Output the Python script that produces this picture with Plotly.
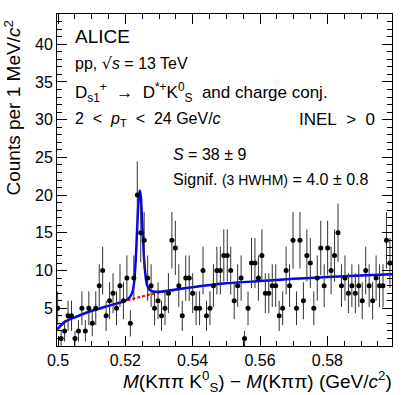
import numpy as np
import plotly.graph_objects as go

# Histogram: counts per bin (D*+K0S invariant-mass difference)
counts = [5, 1, 2, 4, 4, 1, 2, 5, 2, 5, 3, 5, 8, 10, 4, 6, 7, 5, 8, 6,
          9, 3, 9, 20, 15, 14, 9, 8, 5, 6, 4, 5, 7, 14, 13, 8, 4, 9, 9, 7,
          5, 5, 10, 4, 5, 8, 10, 10, 12, 12, 10, 6, 8, 9, 1, 5, 11, 11, 9, 12,
          7, 7, 8, 8, 4, 5, 10, 8, 14, 5, 14, 6, 12, 11, 5, 9, 13, 8, 13, 10,
          12, 15, 8, 9, 7, 8, 7, 8, 6, 10, 8, 6, 9, 8, 8, 14, 11]
first_center = 0.4999
bin_step = 0.001028
mass = first_center + bin_step * np.arange(len(counts))
errors = np.sqrt(counts)

# Total fit (signal + background)
fit_x = [0.4997, 0.5020, 0.5050, 0.5090, 0.5140, 0.5180, 0.5200, 0.5212, 0.5220,
         0.5226, 0.5231, 0.5236, 0.5240, 0.5243, 0.5246, 0.5250, 0.5255, 0.5260,
         0.5265, 0.5272, 0.5285, 0.5305, 0.5350, 0.5400, 0.5500, 0.5600, 0.5700,
         0.5800, 0.5900, 0.5992]
fit_y = [2.2, 3.2, 3.8, 4.5, 5.2, 5.7, 6.0, 6.4, 7.0,
         8.4, 11.5, 16.5, 19.8, 20.6, 19.8, 16.5, 12.0, 9.3,
         8.0, 7.45, 7.2, 7.2, 7.5, 7.8, 8.3, 8.6, 8.9,
         9.15, 9.35, 9.5]

# Background only, under the peak
bkg_x = [0.5192, 0.5220, 0.5250, 0.5280, 0.5310, 0.5355]
bkg_y = [5.9, 6.25, 6.6, 6.9, 7.15, 7.45]

x_ticks = [0.5, 0.52, 0.54, 0.56, 0.58]
x_ticktext = ["0.5", "0.52", "0.54", "0.56", "0.58"]
y_ticks = [5, 10, 15, 20, 25, 30, 35, 40]

W, H = 407, 395
L, R, T, B = 57, 15, 14, 49
FONT = "Liberation Sans, Arial, sans-serif"
SP = "&nbsp;"


def px(x):
    return (x - L) / (W - L - R)


def py(y):
    return (H - B - y) / (H - T - B)


fig = go.Figure()

fig.add_trace(go.Scatter(
    x=bkg_x, y=bkg_y, mode="lines",
    line=dict(color="#ff0000", width=2, dash="3px,2px"),
    hoverinfo="skip",
))

fig.add_trace(go.Scatter(
    x=fit_x, y=fit_y, mode="lines",
    line=dict(color="#0000ff", width=2.5, shape="spline", smoothing=0.6),
    hoverinfo="skip",
))

fig.add_trace(go.Scatter(
    x=mass, y=counts, mode="markers",
    marker=dict(color="black", size=5),
    error_y=dict(type="data", array=errors, color="#333333", thickness=1, width=0),
    hoverinfo="skip",
))

axis_common = dict(
    showline=True, linecolor="black", linewidth=1, mirror="allticks",
    ticks="inside", ticklen=10, tickcolor="black", tickwidth=1,
    showgrid=False, zeroline=False,
    tickfont=dict(family=FONT, size=16, color="black"),
)

fig.update_xaxes(
    range=[0.4997, 0.5992],
    tickvals=x_ticks, ticktext=x_ticktext,
    minor=dict(ticks="inside", dtick=0.005, ticklen=5, tickcolor="black", showgrid=False),
    **axis_common,
)
fig.update_yaxes(
    range=[0, 44],
    tickvals=y_ticks,
    minor=dict(ticks="inside", dtick=1, ticklen=5, tickcolor="black", showgrid=False),
    **axis_common,
)

notes = [
    (73, 36, "ALICE", 19, "left"),
    (73, 64, "pp, <span style='font-family:DejaVu Sans'>√</span><i>s</i> = 13 TeV", 16, "left"),
    (73, 92, "D<sub>s1</sub><sup>+</sup>" + SP * 2 + "→" + SP * 2 + "D<sup>*+</sup>"
     + "K<sup>0</sup><sub>S</sub>" + SP * 2 + "and charge conj.", 17, "left"),
    (73, 120, "2 " + SP + "&lt;" + SP * 2 + "<i>p</i><sub>T</sub> " + SP + "&lt;"
     + SP * 2 + "24 GeV/<i>c</i>", 16, "left"),
    (377, 120, "INEL" + SP + " &gt;" + SP * 2 + "0", 17, "right"),
    (171, 155, "<i>S</i> = 38 ± 9", 16, "left"),
    (171, 179, "Signif. <span style='font-size:14px'>(3 HWHM)</span> = 4.0 ± 0.8", 16, "left"),
]
for x, y, text, size, anchor in notes:
    fig.add_annotation(
        x=px(x), y=py(y), xref="paper", yref="paper",
        text=text, showarrow=False, xanchor=anchor, yanchor="middle",
        font=dict(family=FONT, size=size, color="black"),
    )

# axis titles (ROOT style: right/top aligned)
fig.add_annotation(
    x=px(394), y=py(381), xref="paper", yref="paper",
    text="<i>M</i>(Kππ K<sup>0</sup><sub>S</sub>) − <i>M</i>(Kππ) (GeV/<i>c</i><sup>2</sup>)",
    showarrow=False, xanchor="right", yanchor="middle",
    font=dict(family=FONT, size=19, color="black"),
)
fig.add_annotation(
    x=px(13), y=py(19), xref="paper", yref="paper",
    text="Counts per 1 MeV/<i>c</i><sup>2</sup>",
    textangle=-90, showarrow=False, xanchor="center", yanchor="top",
    font=dict(family=FONT, size=19, color="black"),
)

fig.update_layout(
    width=W, height=H,
    margin=dict(l=L, r=R, t=T, b=B, autoexpand=False),
    paper_bgcolor="white", plot_bgcolor="white",
    showlegend=False,
    font=dict(family=FONT, color="black"),
)

# drop the browser's default page margin so the figure sits at (0, 0)
fig.write_html(
    "out.html",
    config={"displayModeBar": False},
    post_script="document.body.style.margin = '0';",
)
